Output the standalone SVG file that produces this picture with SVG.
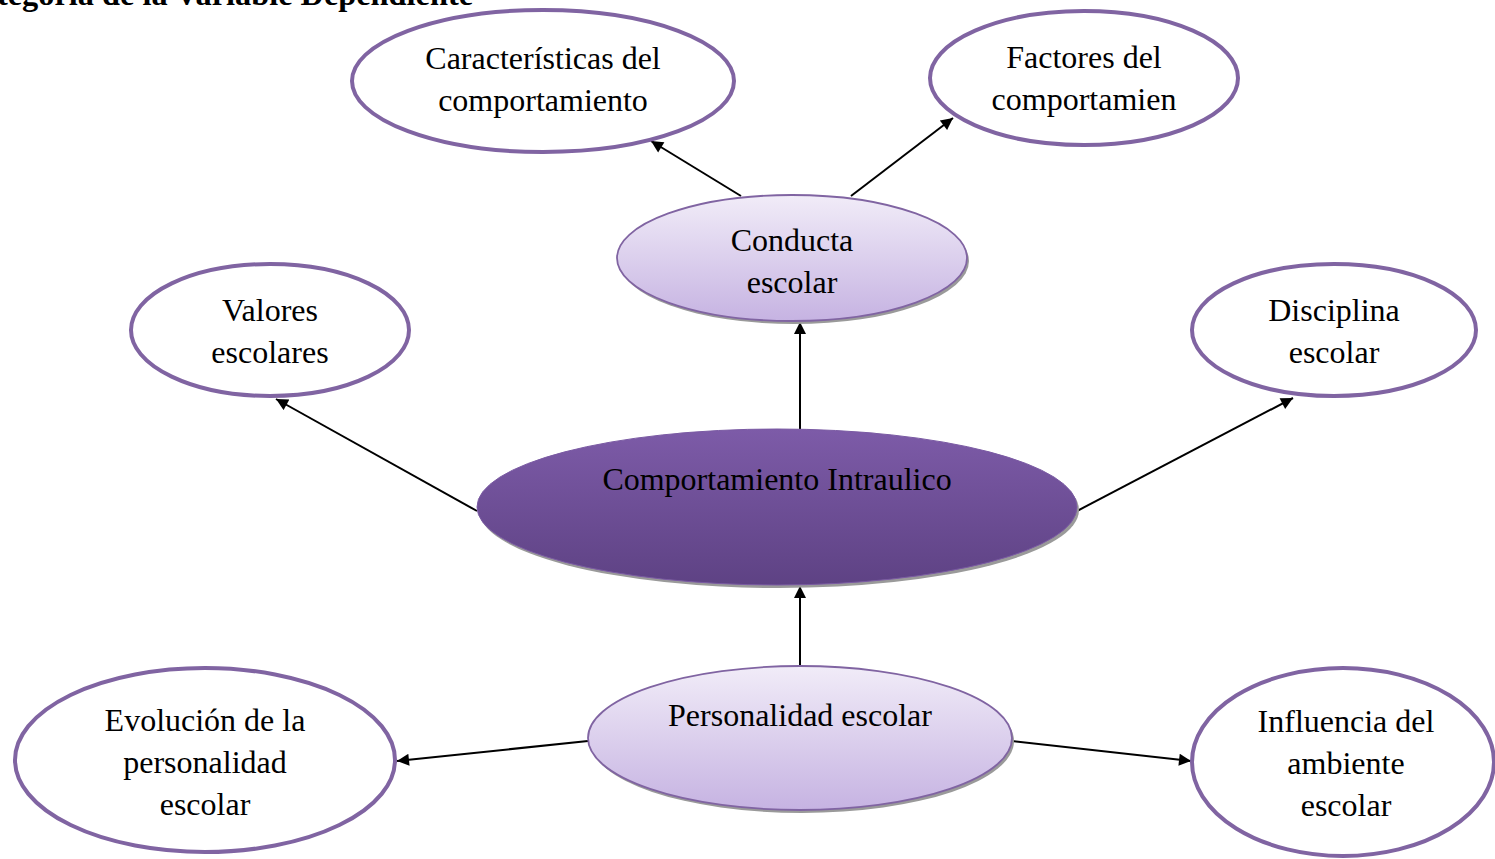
<svg xmlns="http://www.w3.org/2000/svg" width="1495" height="859" viewBox="0 0 1495 859">
<style>
.t{font-family:"Liberation Serif","Times New Roman",serif;font-size:32px;fill:#000;text-anchor:middle}
.title{font-family:"Liberation Serif","Times New Roman",serif;font-size:32px;font-weight:bold;fill:#000}
.w{fill:#fff;stroke:#8064A2;stroke-width:4}
.l{fill:url(#lg);stroke:#8064A2;stroke-width:1.8}
.d{fill:url(#dg);stroke:#7A5AA3;stroke-width:1}
.sh{fill:#9a9a9a}
.c{stroke:#000;stroke-width:2;fill:none;marker-end:url(#ah)}
</style>
<defs>
<linearGradient id="lg" x1="0" y1="0" x2="0" y2="1">
<stop offset="0" stop-color="#F1ECF8"/>
<stop offset="1" stop-color="#C6B3E2"/>
</linearGradient>
<linearGradient id="dg" x1="0" y1="0" x2="0" y2="1">
<stop offset="0" stop-color="#7D5BA8"/>
<stop offset="1" stop-color="#5E4284"/>
</linearGradient>
<marker id="ah" viewBox="0 0 10 10" refX="10" refY="5" markerWidth="14" markerHeight="12" markerUnits="userSpaceOnUse" orient="auto">
<path d="M0,0 L10,5 L0,10 z" fill="#000"/>
</marker>
</defs>
<text class="title" x="-3" y="5" textLength="476" lengthAdjust="spacingAndGlyphs">tegoría de la Variable Dependiente</text>
<g id="connectors">
<line class="c" x1="741" y1="196" x2="651" y2="141"/>
<line class="c" x1="851" y1="196" x2="953" y2="118"/>
<line class="c" x1="800" y1="429" x2="800" y2="322"/>
<line class="c" x1="477" y1="511" x2="276" y2="399"/>
<line class="c" x1="1077" y1="511" x2="1293" y2="398"/>
<line class="c" x1="800" y1="666" x2="800" y2="586"/>
<line class="c" x1="588" y1="741" x2="397" y2="761"/>
<line class="c" x1="1012" y1="741" x2="1191" y2="761"/>
</g>
<g id="n-caracteristicas">
<ellipse class="w" cx="543" cy="81" rx="191" ry="71"/>
<text class="t" x="543" y="69">Características del</text>
<text class="t" x="543" y="111">comportamiento</text>
</g>
<g id="n-factores">
<ellipse class="w" cx="1084" cy="78" rx="154" ry="67"/>
<text class="t" x="1084" y="68">Factores del</text>
<text class="t" x="1084" y="110">comportamien</text>
</g>
<g id="n-conducta">
<ellipse class="sh" cx="794" cy="261" rx="175" ry="63"/>
<ellipse class="l" cx="792" cy="258" rx="175" ry="63"/>
<text class="t" x="792" y="251">Conducta</text>
<text class="t" x="792" y="293">escolar</text>
</g>
<g id="n-valores">
<ellipse class="w" cx="270" cy="330" rx="139" ry="66"/>
<text class="t" x="270" y="321">Valores</text>
<text class="t" x="270" y="363">escolares</text>
</g>
<g id="n-disciplina">
<ellipse class="w" cx="1334" cy="330" rx="142" ry="66"/>
<text class="t" x="1334" y="321">Disciplina</text>
<text class="t" x="1334" y="363">escolar</text>
</g>
<g id="n-central">
<ellipse class="sh" cx="779" cy="510" rx="300" ry="78"/>
<ellipse class="d" cx="777" cy="507" rx="300" ry="78"/>
<text class="t" x="777" y="490">Comportamiento Intraulico</text>
</g>
<g id="n-personalidad">
<ellipse class="sh" cx="802" cy="741" rx="212" ry="72"/>
<ellipse class="l" cx="800" cy="738" rx="212" ry="72"/>
<text class="t" x="800" y="726">Personalidad escolar</text>
</g>
<g id="n-evolucion">
<ellipse class="w" cx="205" cy="760" rx="190" ry="92"/>
<text class="t" x="205" y="731">Evolución de la</text>
<text class="t" x="205" y="773">personalidad</text>
<text class="t" x="205" y="815">escolar</text>
</g>
<g id="n-influencia">
<ellipse class="w" cx="1343" cy="762" rx="151" ry="94"/>
<text class="t" x="1346" y="732">Influencia del</text>
<text class="t" x="1346" y="774">ambiente</text>
<text class="t" x="1346" y="816">escolar</text>
</g>
</svg>
